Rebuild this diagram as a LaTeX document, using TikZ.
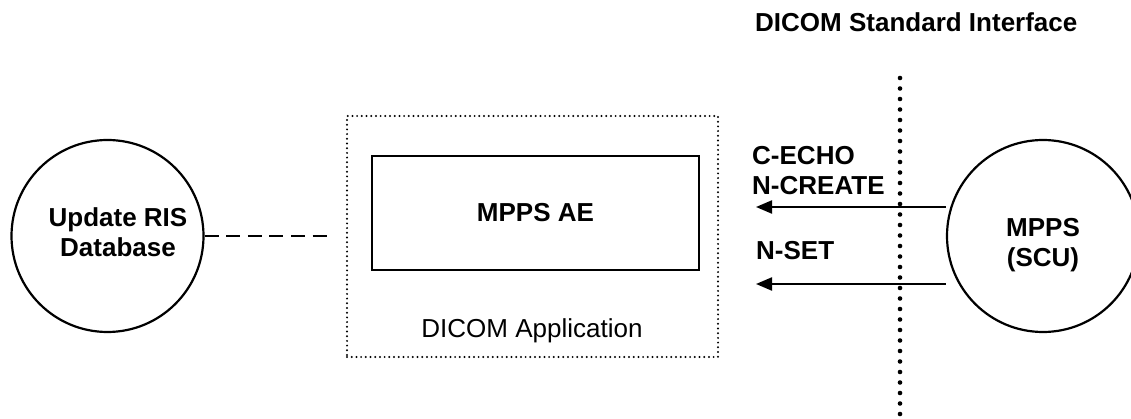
\documentclass[tikz,border=0pt]{standalone}
\usepackage{fontspec}
\setmainfont{Liberation Sans}
\usetikzlibrary{arrows.meta}
\begin{document}
\begin{tikzpicture}[x=1pt,y=-1pt,
  every node/.style={font=\fontsize{26}{31}\selectfont},
  txt/.style={inner sep=0pt,font=\fontsize{26}{31}\selectfont\bfseries},
  plaintxt/.style={inner sep=0pt,font=\fontsize{26}{31}\selectfont},
  bubble/.style={circle,draw,line width=2.2pt,minimum size=192pt,inner sep=0pt},
  aebox/.style={draw,line width=2.6pt,minimum width=327pt,minimum height=114pt,inner sep=0pt},
  appbox/.style={draw,line width=2.2pt,dash pattern=on 0pt off 4.7pt,line cap=round,minimum width=371pt,minimum height=241pt,inner sep=0pt},
  msg/.style={line width=2.2pt,-{Triangle[length=16pt,width=13pt]}},
  link/.style={line width=2.2pt,dash pattern=on 14pt off 7.6pt},
  border/.style={line width=4.6pt,dash pattern=on 0pt off 10.5pt,line cap=round}
]
\useasboundingbox (0,0) rectangle (1131,419);
\clip (0,0) rectangle (1131,419);
% nodes
\node[bubble] (ris) at (107.5,236) {};
\node[bubble] (scu) at (1043,236) {};
\node[appbox] (app) at (532.5,236.5) {};
\node[aebox] (ae) at (535.5,213) {};
% texts
\node[txt,anchor=base] (ris1) at (118,227) {Update RIS};
\node[txt,anchor=base] (ris2) at (118,257) {Database};
\node[txt,anchor=base] (scu1) at (1043,237) {MPPS};
\node[txt,anchor=base] (scu2) at (1043,267) {(SCU)};
\node[txt,anchor=base] (aetext) at (535.5,222) {MPPS AE};
\node[plaintxt,anchor=base] (apptext) at (532,337) {DICOM Application};
\node[txt,anchor=base west] (title) at (755,32) {DICOM Standard Interface};
\node[txt,anchor=base west] (lecho) at (752,165) {C-ECHO};
\node[txt,anchor=base west] (lcreate) at (752,195) {N-CREATE};
\node[txt,anchor=base west] (lset) at (756,260) {N-SET};
% interface line
\coordinate (itop) at (900,78);
\coordinate (ibot) at (900,425);
\draw[border] (itop) -- (ibot);
% messages
\coordinate (tip1) at (756,207);
\coordinate (tip2) at (756,284);
\draw[msg] (scu.west |- tip1) -- (tip1);
\draw[msg] (scu.west |- tip2) -- (tip2);
% dashed link
\coordinate (linkend) at (333,236);
\draw[link] (ris.east) -- (linkend);
\end{tikzpicture}
\end{document}
